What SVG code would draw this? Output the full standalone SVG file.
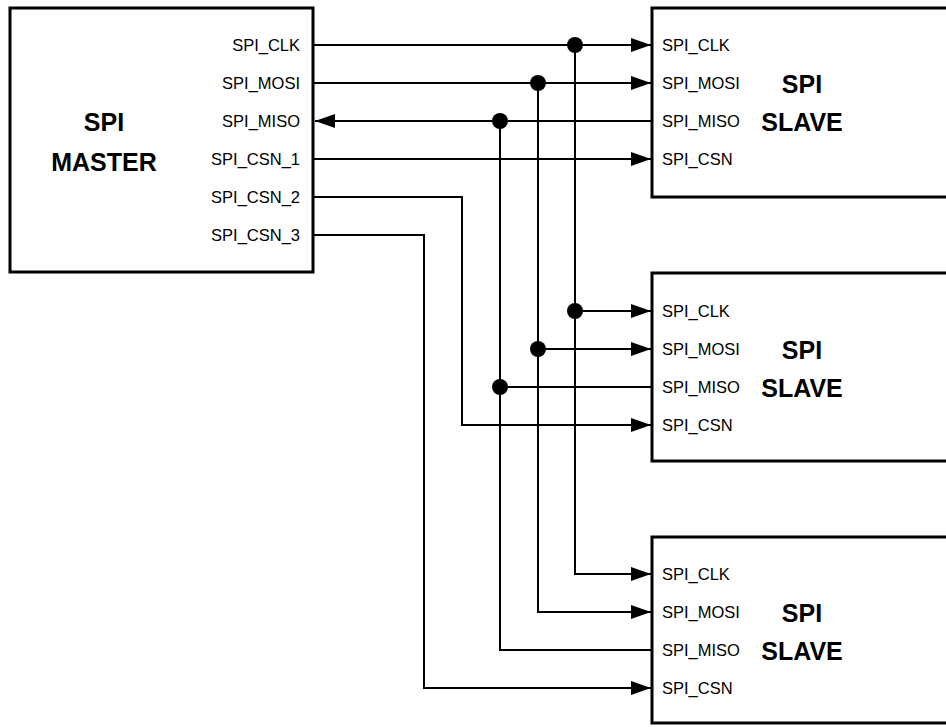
<svg xmlns="http://www.w3.org/2000/svg" width="946" height="727" viewBox="0 0 946 727">
<style>
.box{fill:#fff;stroke:#000;stroke-width:3}
.w{fill:none;stroke:#000;stroke-width:2}
.lbl{font-family:"Liberation Sans",Arial,sans-serif;font-size:16.5px;fill:#000}
.r{text-anchor:end}
.big{font-family:"Liberation Sans",Arial,sans-serif;font-size:25px;font-weight:bold;text-anchor:middle;fill:#000}
.dot{fill:#000}
</style>
<defs>
<marker id="arr" markerUnits="userSpaceOnUse" markerWidth="20" markerHeight="14" refX="20" refY="7" orient="auto">
<path d="M0,0 L20,7 L0,14 Z" fill="#000"/>
</marker>
</defs>
<rect width="946" height="727" fill="#fff"/>
<g id="master">
<rect class="box" x="10" y="8" width="303" height="264"/>
<text class="big" x="104" y="131">SPI</text>
<text class="big" x="104" y="171">MASTER</text>
<text class="lbl r" x="300" y="51">SPI_CLK</text>
<text class="lbl r" x="300" y="89">SPI_MOSI</text>
<text class="lbl r" x="300" y="127">SPI_MISO</text>
<text class="lbl r" x="300" y="165">SPI_CSN_1</text>
<text class="lbl r" x="300" y="203">SPI_CSN_2</text>
<text class="lbl r" x="300" y="241">SPI_CSN_3</text>
</g>
<g id="slave1">
<rect class="box" x="652" y="8" width="400" height="189"/>
<text class="lbl" x="662" y="51">SPI_CLK</text>
<text class="lbl" x="662" y="89">SPI_MOSI</text>
<text class="lbl" x="662" y="127">SPI_MISO</text>
<text class="lbl" x="662" y="165">SPI_CSN</text>
<text class="big" x="802" y="93">SPI</text>
<text class="big" x="802" y="131">SLAVE</text>
</g>
<g id="slave2">
<rect class="box" x="652" y="273" width="400" height="188"/>
<text class="lbl" x="662" y="317">SPI_CLK</text>
<text class="lbl" x="662" y="355">SPI_MOSI</text>
<text class="lbl" x="662" y="393">SPI_MISO</text>
<text class="lbl" x="662" y="431">SPI_CSN</text>
<text class="big" x="802" y="359">SPI</text>
<text class="big" x="802" y="397">SLAVE</text>
</g>
<g id="slave3">
<rect class="box" x="652" y="537" width="400" height="186"/>
<text class="lbl" x="662" y="580">SPI_CLK</text>
<text class="lbl" x="662" y="618">SPI_MOSI</text>
<text class="lbl" x="662" y="656">SPI_MISO</text>
<text class="lbl" x="662" y="694">SPI_CSN</text>
<text class="big" x="802" y="622">SPI</text>
<text class="big" x="802" y="660">SLAVE</text>
</g>
<g id="connectors">
<path class="w" d="M314,45 H651" marker-end="url(#arr)"/>
<path class="w" d="M314,83 H651" marker-end="url(#arr)"/>
<path class="w" d="M651,121 H315" marker-end="url(#arr)"/>
<path class="w" d="M314,159 H651" marker-end="url(#arr)"/>
<path class="w" d="M314,197 H462 V425 H651" marker-end="url(#arr)"/>
<path class="w" d="M314,235 H424 V688 H651" marker-end="url(#arr)"/>
<path class="w" d="M575,45 V574 H651" marker-end="url(#arr)"/>
<path class="w" d="M538,83 V612 H651" marker-end="url(#arr)"/>
<path class="w" d="M500,121 V650 H651"/>
<path class="w" d="M575,311 H651" marker-end="url(#arr)"/>
<path class="w" d="M538,349 H651" marker-end="url(#arr)"/>
<path class="w" d="M500,387 H651"/>
<circle class="dot" cx="575" cy="45" r="8"/>
<circle class="dot" cx="538" cy="83" r="8"/>
<circle class="dot" cx="500" cy="121" r="8"/>
<circle class="dot" cx="575" cy="311" r="8"/>
<circle class="dot" cx="538" cy="349" r="8"/>
<circle class="dot" cx="500" cy="387" r="8"/>
</g>
</svg>
